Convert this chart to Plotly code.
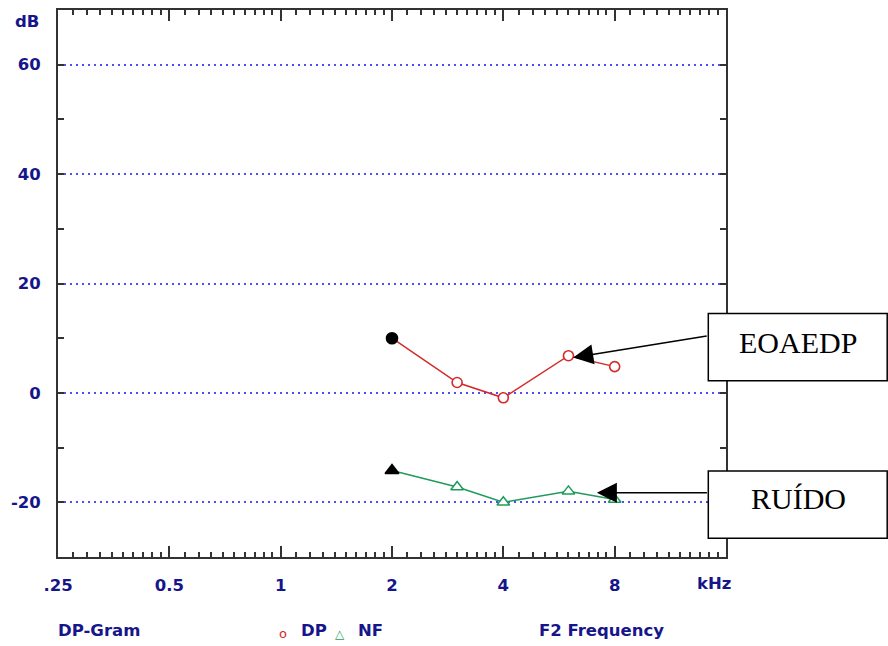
import numpy as np
import plotly.graph_objects as go

# ---- data ----
freq_khz = [2, 3, 4, 6, 8]
dp_db = [10.0, 1.9, -0.9, 6.8, 4.8]
nf_db = [-14.2, -17.2, -20.0, -18.0, -19.5]

x_tick_vals = [0.25, 0.5, 1, 2, 4, 8]
x_tick_text = [".25", "0.5", "1", "2", "4", "8"]
y_tick_vals = [-20, 0, 20, 40, 60]
y_tick_text = ["-20", "0", "20", "40", "60"]

# ---- styles ----
NAVY = "#16168a"
AXIS = "#333333"
RED = "#d42a2a"
GREEN = "#1f9a5a"
GRID = "#4d4dff"
LABEL_FONT = dict(family="DejaVu Sans", size=16.5, color=NAVY, weight="bold")

minor_x = [b * (1 + 0.1 * k) for b in x_tick_vals for k in range(1, 10)]

W, H = 888, 646
L, R, T, B = 58, 162, 8, 89
PW, PH = W - L - R, H - T - B


def px(xp):
    return (xp - L) / PW


def py(yp):
    return (H - B - yp) / PH


n = len(freq_khz)
fig = go.Figure()
fig.add_trace(go.Scatter(
    x=freq_khz, y=dp_db, mode="lines+markers",
    line=dict(color=RED, width=1.5),
    marker=dict(symbol="circle", size=[11] + [10] * (n - 1), opacity=1,
                color=["#000000"] + ["#ffffff"] * (n - 1),
                line=dict(color=["#000000"] + [RED] * (n - 1), width=1.6)),
))
fig.add_trace(go.Scatter(
    x=freq_khz, y=nf_db, mode="lines+markers",
    line=dict(color=GREEN, width=1.5),
    marker=dict(symbol="triangle-up", size=[12] + [11] * (n - 1), opacity=1,
                color=["#000000"] + ["#ffffff"] * (n - 1),
                line=dict(color=["#000000"] + [GREEN] * (n - 1), width=1.5)),
))

fig.update_layout(
    width=W, height=H,
    margin=dict(l=L, r=R, t=T, b=B),
    paper_bgcolor="white", plot_bgcolor="white",
    showlegend=False,
    xaxis=dict(
        type="log", range=[np.log10(0.25), np.log10(16)],
        tickmode="array", tickvals=x_tick_vals, ticktext=x_tick_text,
        ticks="inside", ticklen=11, tickwidth=1.5, tickcolor=AXIS,
        showline=True, linecolor=AXIS, linewidth=2, mirror="ticks",
        showgrid=False, zeroline=False,
        tickfont=LABEL_FONT, ticklabelstandoff=12,
        minor=dict(tickmode="array", tickvals=minor_x, ticks="inside",
                   ticklen=5, tickwidth=1.5, tickcolor=AXIS, showgrid=False),
    ),
    yaxis=dict(
        range=[-30, 70],
        tickmode="array", tickvals=y_tick_vals, ticktext=y_tick_text,
        ticks="inside", ticklen=6, tickwidth=1.5, tickcolor=AXIS,
        showline=True, linecolor=AXIS, linewidth=2, mirror="ticks",
        showgrid=True, gridcolor=GRID, gridwidth=1.5, griddash="1.5px,4.5px",
        zeroline=False,
        tickfont=LABEL_FONT, ticklabelstandoff=12,
        minor=dict(dtick=10, tick0=0, ticks="inside", ticklen=6,
                   tickwidth=1.5, tickcolor=AXIS, showgrid=False),
    ),
)

# annotation boxes
for y0, y1 in [(380, 312.7), (538.3, 470.7)]:
    fig.add_shape(type="rect", xref="paper", yref="paper",
                  x0=px(708.3), x1=px(887.2), y0=py(y0), y1=py(y1),
                  line=dict(color="black", width=1.5), fillcolor="white", layer="above")

BOX_FONT = dict(family="Liberation Serif", size=30, color="black")
fig.add_annotation(text="EOAEDP", xref="paper", yref="paper", x=px(798), y=py(341.7),
                   xanchor="center", yanchor="middle", showarrow=False, font=BOX_FONT)
fig.add_annotation(text="RUÍDO", xref="paper", yref="paper", x=px(798), y=py(497.8),
                   xanchor="center", yanchor="middle", showarrow=False, font=BOX_FONT)

# arrows
ARROW = dict(showarrow=True, arrowhead=2, arrowsize=2.67, arrowwidth=1.5,
             arrowcolor="black", standoff=0, text="", xref="x", yref="y",
             axref="pixel", ayref="pixel")
fig.add_annotation(x=np.log10(6.18), y=6.47, ax=135, ay=-21.7, **ARROW)
fig.add_annotation(x=np.log10(7.16), y=-18.25, ax=111.6, ay=0, **ARROW)

# axis / footer labels
def label(text, xp, yp, xanchor="left", font=LABEL_FONT):
    fig.add_annotation(text=text, xref="paper", yref="paper", x=px(xp), y=py(yp),
                       xanchor=xanchor, yanchor="middle", showarrow=False, font=font)


label("dB", 41, 20, "right")
label("kHz", 714, 584, "center")
label("DP-Gram", 56, 630.5)
label("o", 283, 634, "center", dict(family="DejaVu Sans", size=13, color=RED))
label("DP", 299, 630.5)
label("△", 340, 634.5, "center", dict(family="DejaVu Sans", size=12, color=GREEN))
label("NF", 356, 630.5)
label("F2 Frequency", 537, 630.5)

fig.write_html("out.html", config={"displayModeBar": False},
               post_script="document.body.style.margin='0px';document.body.style.overflow='hidden';")
